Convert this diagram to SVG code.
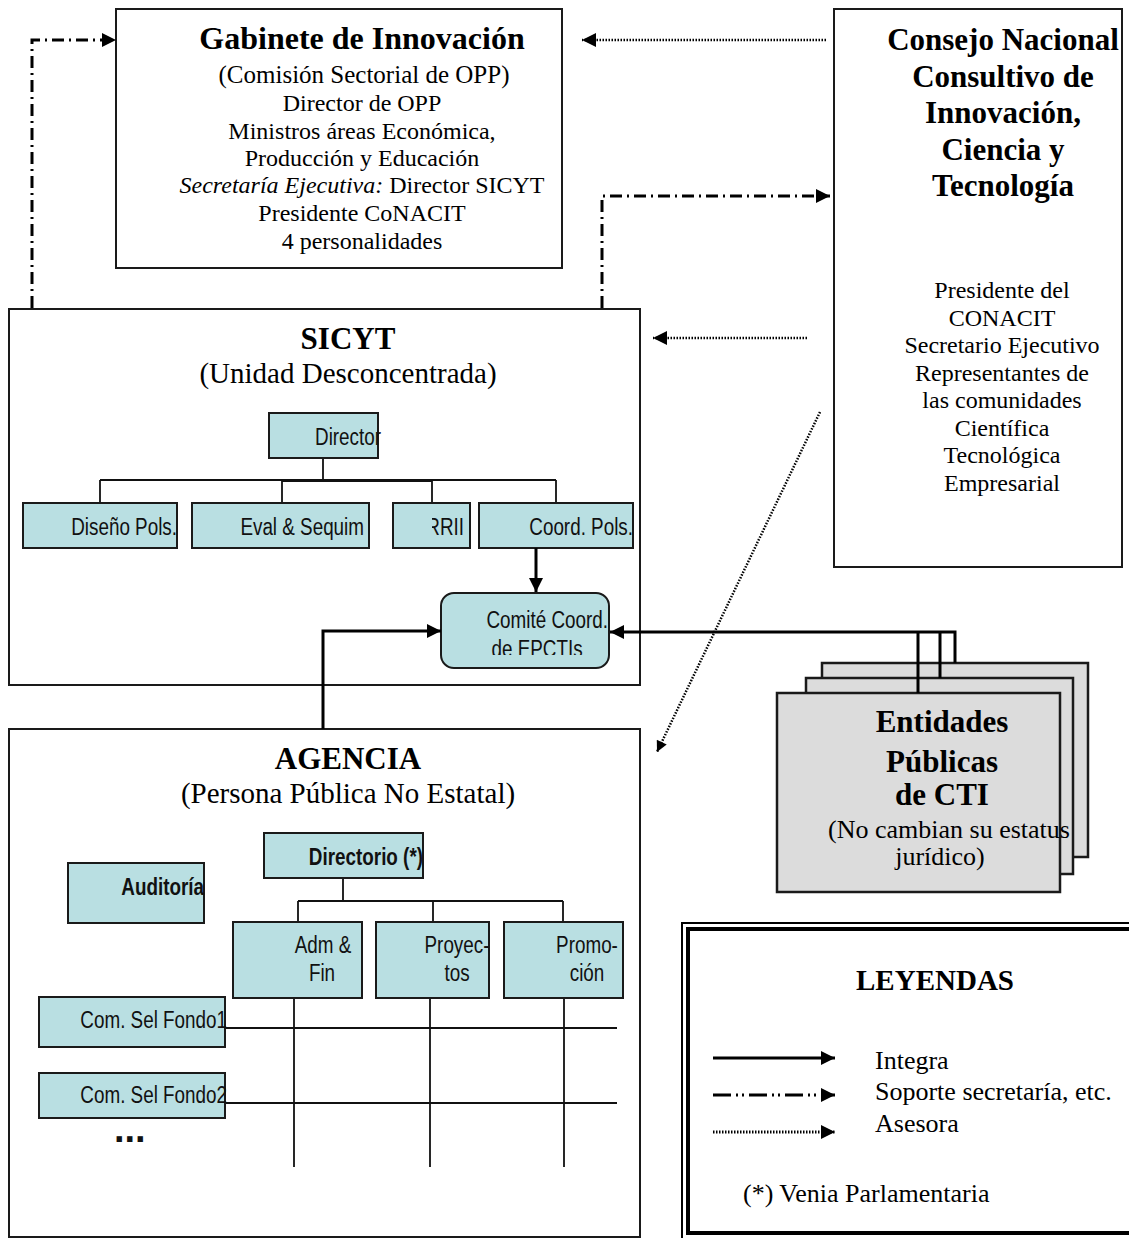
<svg xmlns="http://www.w3.org/2000/svg" width="1129" height="1238" viewBox="0 0 1129 1238">
<style>
.bg{fill:#fff}
.box{fill:#fff;stroke:#1a1a1a;stroke-width:2}
.tl{fill:#b9dfe2;stroke:#1a1a1a;stroke-width:2}
.gr{fill:#dcdcdc;stroke:#1a1a1a;stroke-width:2.5}
.sf{font-family:"Liberation Serif","Times New Roman",serif;fill:#000;text-anchor:middle}
.t{font-size:32px;font-weight:bold}
.s{font-size:29px}
.b{font-size:24px}
.sn{font-family:"Liberation Sans",Arial,sans-serif;font-size:23px;fill:#111}
.bd{font-weight:bold}
.thin{fill:none;stroke:#111;stroke-width:1.8}
.thick{fill:none;stroke:#000;stroke-width:3}
.dot{fill:none;stroke:#000;stroke-width:2.5;stroke-dasharray:1.5 1.5}
.dd{fill:none;stroke:#000;stroke-width:3;stroke-dasharray:12 5 2 5}
.ddd{fill:none;stroke:#000;stroke-width:3;stroke-dasharray:18 5 2 4 2 5}
</style>
<defs>
<marker id="ah" viewBox="0 0 10 10" refX="10" refY="5" markerWidth="17" markerHeight="14" markerUnits="userSpaceOnUse" orient="auto"><path d="M0,0 L10,5 L0,10 z" fill="#000"/></marker>
<marker id="ahs" viewBox="0 0 10 10" refX="10" refY="5" markerWidth="13" markerHeight="11" markerUnits="userSpaceOnUse" orient="auto"><path d="M0,0 L10,5 L0,10 z" fill="#000"/></marker>
<clipPath id="cRR"><rect x="432" y="503" width="40" height="45"/></clipPath>
<clipPath id="cCom"><rect x="441" y="593" width="168" height="62"/></clipPath>
</defs>
<rect class="bg" x="0" y="0" width="1129" height="1238"/>

<g id="gabinete">
<rect class="box" x="116" y="9" width="446" height="259"/>
<text class="sf t" x="362" y="49">Gabinete de Innovación</text>
<text class="sf" style="font-size:25px" x="364" y="83">(Comisión Sectorial de OPP)</text>
<text class="sf b" x="362" y="111">Director de OPP</text>
<text class="sf b" x="362" y="139">Ministros áreas Económica,</text>
<text class="sf b" x="362" y="166">Producción y Educación</text>
<text class="sf b" x="362" y="193"><tspan font-style="italic">Secretaría Ejecutiva:</tspan> Director SICYT</text>
<text class="sf b" x="362" y="221">Presidente CoNACIT</text>
<text class="sf b" x="362" y="249">4 personalidades</text>
</g>

<g id="consejo">
<rect class="box" x="834" y="9" width="288" height="558"/>
<text class="sf t" style="font-size:31px" x="1003" y="50">Consejo Nacional</text>
<text class="sf t" style="font-size:31px" x="1003" y="87">Consultivo de</text>
<text class="sf t" style="font-size:31px" x="1003" y="123">Innovación,</text>
<text class="sf t" style="font-size:31px" x="1003" y="160">Ciencia y</text>
<text class="sf t" style="font-size:31px" x="1003" y="196">Tecnología</text>
<text class="sf b" x="1002" y="298">Presidente del</text>
<text class="sf b" x="1002" y="326">CONACIT</text>
<text class="sf b" x="1002" y="353">Secretario Ejecutivo</text>
<text class="sf b" x="1002" y="381">Representantes de</text>
<text class="sf b" x="1002" y="408">las comunidades</text>
<text class="sf b" x="1002" y="436">Científica</text>
<text class="sf b" x="1002" y="463">Tecnológica</text>
<text class="sf b" x="1002" y="491">Empresarial</text>
</g>

<g id="sicyt">
<rect class="box" x="9" y="309" width="631" height="376"/>
<text class="sf t" style="font-size:31px" x="348" y="349">SICYT</text>
<text class="sf s" x="348" y="383">(Unidad Desconcentrada)</text>
</g>

<g id="agencia">
<rect class="box" x="9" y="729" width="631" height="508"/>
<text class="sf t" style="font-size:31px" x="348" y="769">AGENCIA</text>
<text class="sf s" x="348" y="803">(Persona Pública No Estatal)</text>
</g>

<g id="tree-lines">
<path class="thin" d="M323,458 V480 M100,480 H556 M282,481 H432 M100,480 V503 M282,480 V503 M432,480 V503 M556,480 V503"/>
<path class="thin" d="M343,878 V901 M298,901 H563 M298,901 V922 M433,901 V922 M563,901 V922"/>
<path class="thin" d="M225,1028 H617 M225,1103 H617 M294,998 V1167 M430,998 V1167 M564,998 V1167"/>
</g>

<g id="director">
<rect class="tl" x="269" y="413" width="109" height="45"/>
<text class="sn" text-anchor="end" transform="translate(381,445) scale(0.82,1)">Director</text>
</g>
<g id="diseno">
<rect class="tl" x="23" y="503" width="154" height="45"/>
<text class="sn" text-anchor="end" transform="translate(177,535) scale(0.82,1)">Diseño Pols.</text>
</g>
<g id="eval">
<rect class="tl" x="192" y="503" width="177" height="45"/>
<text class="sn" text-anchor="end" transform="translate(364,535) scale(0.82,1)">Eval &amp; Sequim</text>
</g>
<g id="rrii">
<rect class="tl" x="393" y="503" width="77" height="45"/>
<g clip-path="url(#cRR)"><text class="sn" text-anchor="end" transform="translate(464,535) scale(0.82,1)">RRII</text></g>
</g>
<g id="coord">
<rect class="tl" x="479" y="503" width="154" height="45"/>
<text class="sn" text-anchor="end" transform="translate(633,535) scale(0.82,1)">Coord. Pols.</text>
</g>
<g id="comite">
<rect class="tl" x="441" y="593" width="168" height="75" rx="13" ry="13"/>
<g clip-path="url(#cCom)">
<text class="sn" text-anchor="end" transform="translate(608,628) scale(0.82,1)">Comité Coord.</text>
<text class="sn" text-anchor="middle" transform="translate(537,657) scale(0.82,1)">de EPCTIs</text>
</g>
</g>

<g id="directorio">
<rect class="tl" x="264" y="833" width="159" height="45"/>
<text class="sn bd" text-anchor="end" transform="translate(423,865) scale(0.82,1)">Directorio (*)</text>
</g>
<g id="auditoria">
<rect class="tl" x="68" y="863" width="136" height="60"/>
<text class="sn bd" text-anchor="end" transform="translate(204,895) scale(0.82,1)">Auditoría</text>
</g>
<g id="admfin">
<rect class="tl" x="233" y="922" width="129" height="76"/>
<text class="sn" text-anchor="middle" transform="translate(323,953) scale(0.82,1)">Adm &amp;</text>
<text class="sn" text-anchor="middle" transform="translate(322,981) scale(0.82,1)">Fin</text>
</g>
<g id="proyectos">
<rect class="tl" x="376" y="922" width="113" height="76"/>
<text class="sn" text-anchor="middle" transform="translate(457,953) scale(0.82,1)">Proyec-</text>
<text class="sn" text-anchor="middle" transform="translate(457,981) scale(0.82,1)">tos</text>
</g>
<g id="promocion">
<rect class="tl" x="504" y="922" width="119" height="76"/>
<text class="sn" text-anchor="middle" transform="translate(587,953) scale(0.82,1)">Promo-</text>
<text class="sn" text-anchor="middle" transform="translate(587,981) scale(0.82,1)">ción</text>
</g>
<g id="fondo1">
<rect class="tl" x="39" y="997" width="186" height="50"/>
<text class="sn" text-anchor="end" transform="translate(227,1028) scale(0.82,1)">Com. Sel Fondo1</text>
</g>
<g id="fondo2">
<rect class="tl" x="39" y="1073" width="186" height="45"/>
<text class="sn" text-anchor="end" transform="translate(227,1103) scale(0.82,1)">Com. Sel Fondo2</text>
</g>
<g id="more">
<text class="sn bd" style="font-size:38px" x="114" y="1142">...</text>
</g>

<g id="entidades">
<rect class="gr" x="822" y="663" width="266" height="194"/>
<rect class="gr" x="806" y="678" width="267" height="196"/>
<rect class="gr" x="777" y="693" width="283" height="199"/>
<text class="sf t" style="font-size:31px" x="942" y="732">Entidades</text>
<text class="sf t" style="font-size:31px" x="942" y="772">Públicas</text>
<text class="sf t" style="font-size:31px" x="942" y="805">de CTI</text>
<text class="sf" style="font-size:26px" x="949" y="838">(No cambian su estatus</text>
<text class="sf" style="font-size:26px" x="940" y="865">jurídico)</text>
</g>

<g id="connectors">
<path class="dot" d="M826,40 H582" marker-end="url(#ah)"/>
<path class="dd" d="M32,308 V40 H116" marker-end="url(#ah)"/>
<path class="dd" d="M602,308 V196 H830" marker-end="url(#ah)"/>
<path class="dot" d="M807,338 H653" marker-end="url(#ah)"/>
<path class="dot" d="M820,412 L657,752" marker-end="url(#ahs)"/>
<path class="thick" d="M536,548 V592" marker-end="url(#ah)"/>
<path class="thick" d="M323,729 V631 H441" marker-end="url(#ah)"/>
<path class="thick" d="M955,663 V632 H610" marker-end="url(#ah)"/>
<path class="thick" d="M918,693 V632 M940,678 V632"/>
</g>

<g id="legend">
<rect x="682" y="923" width="470" height="330" fill="#fff" stroke="#000" stroke-width="2"/>
<rect x="688" y="929" width="460" height="304" fill="none" stroke="#000" stroke-width="4"/>
<text class="sf t" style="font-size:29px" x="935" y="990">LEYENDAS</text>
<path class="thick" d="M713,1058 H835" marker-end="url(#ah)"/>
<path class="ddd" d="M713,1095 H835" marker-end="url(#ah)"/>
<path class="dot" style="stroke-width:3" d="M713,1132 H835" marker-end="url(#ah)"/>
<text class="sf" style="font-size:26px;text-anchor:start" x="875" y="1069">Integra</text>
<text class="sf" style="font-size:26px;text-anchor:start" x="875" y="1100">Soporte secretaría, etc.</text>
<text class="sf" style="font-size:26px;text-anchor:start" x="875" y="1132">Asesora</text>
<text class="sf" style="font-size:26px;text-anchor:start" x="743" y="1202">(*) Venia Parlamentaria</text>
</g>
</svg>
